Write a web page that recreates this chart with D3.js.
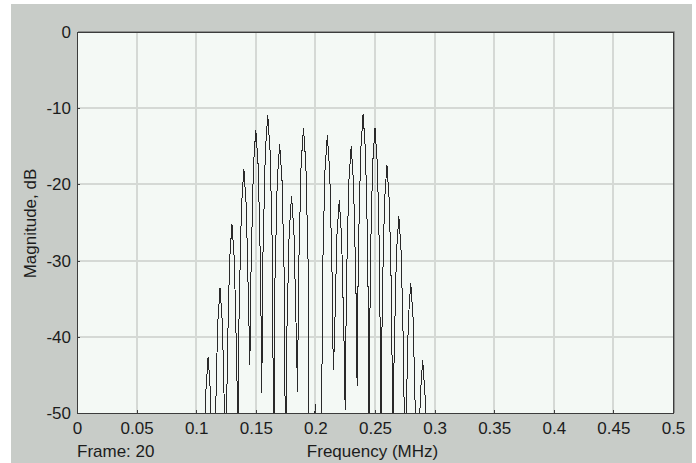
<!DOCTYPE html>
<html>
<head>
<meta charset="utf-8">
<script src="https://cdn.jsdelivr.net/npm/d3@7"></script>
<style>
  html, body { margin: 0; padding: 0; background: #fff; }
  svg text { font-family: "Liberation Sans", Arial, sans-serif; font-size: 17px; fill: #1c1c1c; }
</style>
</head>
<body>
<div id="chart"></div>
<script>
// spectrum vertices (MHz, dB)
const freqs = [
  0.100, 0.105,
  0.106, 0.108, 0.110, 0.112, 0.114, 0.115,
  0.116, 0.118, 0.120, 0.122, 0.124, 0.125,
  0.126, 0.128, 0.130, 0.132, 0.134, 0.135,
  0.136, 0.138, 0.140, 0.142, 0.144, 0.145,
  0.146, 0.148, 0.150, 0.152, 0.154, 0.155,
  0.156, 0.158, 0.160, 0.162, 0.164, 0.165,
  0.166, 0.168, 0.170, 0.172, 0.174, 0.175,
  0.176, 0.178, 0.180, 0.182, 0.184, 0.185,
  0.186, 0.188, 0.190, 0.192, 0.194, 0.195,
  0.198, 0.200, 0.202, 0.205,
  0.206, 0.208, 0.210, 0.212, 0.214, 0.215,
  0.216, 0.218, 0.220, 0.222, 0.224, 0.225,
  0.226, 0.228, 0.230, 0.232, 0.234, 0.235,
  0.236, 0.238, 0.240, 0.242, 0.244, 0.245,
  0.246, 0.248, 0.250, 0.252, 0.254, 0.255,
  0.256, 0.258, 0.260, 0.262, 0.264, 0.265,
  0.266, 0.268, 0.270, 0.272, 0.274, 0.275,
  0.276, 0.278, 0.280, 0.282, 0.284, 0.285,
  0.286, 0.288, 0.290, 0.292, 0.294, 0.295,
  0.300
];
const magnitudes = [
  -75, -68,
  -61, -47.4, -42.6, -47.4, -61, -66,
  -52, -38.4, -33.6, -38.4, -52, -62,
  -43.6, -30.0, -25.2, -30.0, -43.6, -53,
  -36.4, -22.8, -18.0, -22.8, -36.4, -43.7,
  -31.2, -17.6, -12.8, -17.6, -31.2, -47.4,
  -29.3, -15.7, -10.9, -15.7, -29.3, -60,
  -33.1, -19.5, -14.7, -19.5, -33.1, -62,
  -39.9, -26.3, -21.5, -26.3, -39.9, -47.2,
  -31.0, -17.4, -12.6, -17.4, -31.0, -64,
  -55, -48.8, -55, -58,
  -31.9, -18.3, -13.5, -18.3, -31.9, -44.4,
  -40.5, -26.9, -22.1, -26.9, -40.5, -49.6,
  -33.4, -19.8, -15.0, -19.8, -33.4, -46.5,
  -29.2, -15.6, -10.8, -15.6, -29.2, -61,
  -31.0, -17.4, -12.6, -17.4, -31.0, -63,
  -35.8, -22.2, -17.4, -22.2, -35.8, -60,
  -42.6, -29.0, -24.2, -29.0, -42.6, -58,
  -51.3, -37.7, -32.9, -37.7, -51.3, -64,
  -61, -47.8, -43.0, -47.8, -61, -70,
  -75
];

const xTicks = [0, 0.05, 0.1, 0.15, 0.2, 0.25, 0.3, 0.35, 0.4, 0.45, 0.5];
const yTicks = [0, -10, -20, -30, -40, -50];
const xTitle = 'Frequency (MHz)';
const yTitle = 'Magnitude, dB';
const frameLabel = 'Frame: 20';

const width = 696, height = 463;
const plot = { left: 77, top: 32, right: 673, bottom: 413 };

const svg = d3.select('#chart')
  .append('svg')
  .attr('width', width)
  .attr('height', height);

// window panel
svg.append('rect')
  .attr('x', 11).attr('y', 4)
  .attr('width', 681).attr('height', height - 4)
  .attr('fill', '#c8ccc8');

const x = d3.scaleLinear().domain([0, 0.5]).range([plot.left, plot.right]);
const y = d3.scaleLinear().domain([-50, 0]).range([plot.bottom, plot.top]);

svg.append('rect')
  .attr('x', plot.left).attr('y', plot.top)
  .attr('width', plot.right - plot.left).attr('height', plot.bottom - plot.top)
  .attr('fill', '#f4f9f5');

const grid = svg.append('g')
  .attr('stroke', '#d5d9d5')
  .attr('stroke-width', 2)
  .attr('shape-rendering', 'crispEdges');

grid.selectAll('.vx').data(xTicks.slice(1, -1)).enter()
  .append('line')
  .attr('x1', d => Math.round(x(d))).attr('x2', d => Math.round(x(d)))
  .attr('y1', plot.top).attr('y2', plot.bottom);

grid.selectAll('.hy').data(yTicks.slice(1, -1)).enter()
  .append('line')
  .attr('y1', d => Math.round(y(d))).attr('y2', d => Math.round(y(d)))
  .attr('x1', plot.left).attr('x2', plot.right);

svg.append('clipPath').attr('id', 'plot-clip')
  .append('rect')
  .attr('x', plot.left).attr('y', plot.top)
  .attr('width', plot.right - plot.left).attr('height', plot.bottom - plot.top);

const line = d3.line()
  .x(i => x(freqs[i]))
  .y(i => y(magnitudes[i]));

svg.append('path')
  .datum(d3.range(freqs.length))
  .attr('clip-path', 'url(#plot-clip)')
  .attr('fill', 'none')
  .attr('stroke', '#2a2a2a')
  .attr('stroke-width', 1)
  .attr('stroke-linejoin', 'miter')
  .attr('shape-rendering', 'crispEdges')
  .attr('d', line);

// axes, ticks point inward
const xAxis = svg.append('g')
  .attr('transform', `translate(0,${plot.bottom})`)
  .call(d3.axisBottom(x).tickValues(xTicks).tickFormat(d => d).tickSize(-3).tickPadding(9));

const yAxis = svg.append('g')
  .attr('transform', `translate(${plot.left},0)`)
  .call(d3.axisLeft(y).tickValues(yTicks).tickFormat(d => d).tickSize(-3).tickPadding(6));

for (const g of [xAxis, yAxis]) {
  g.select('.domain').remove();
  g.attr('font-size', null).attr('font-family', null);
  g.selectAll('line').attr('stroke', '#404040').attr('shape-rendering', 'crispEdges');
  g.selectAll('text').attr('fill', '#1c1c1c');
}

// frame
svg.append('path')
  .attr('d', `M${plot.left + 1},${plot.top - 0.5}H${plot.right + 1.5}V${plot.bottom}`)
  .attr('fill', 'none')
  .attr('stroke', '#8e908e')
  .attr('stroke-width', 1);

svg.append('rect')
  .attr('x', plot.left + 0.5).attr('y', plot.top + 0.5)
  .attr('width', plot.right - plot.left).attr('height', plot.bottom - plot.top)
  .attr('fill', 'none')
  .attr('stroke', '#3c3c3c')
  .attr('stroke-width', 1);

svg.append('text')
  .attr('x', 372.5).attr('y', 457)
  .attr('text-anchor', 'middle')
  .text(xTitle);

svg.append('text')
  .attr('x', plot.left).attr('y', 457)
  .text(frameLabel);

svg.append('text')
  .attr('transform', `translate(36,${(plot.top + plot.bottom) / 2 + 1}) rotate(-90)`)
  .attr('text-anchor', 'middle')
  .text(yTitle);
</script>
</body>
</html>
